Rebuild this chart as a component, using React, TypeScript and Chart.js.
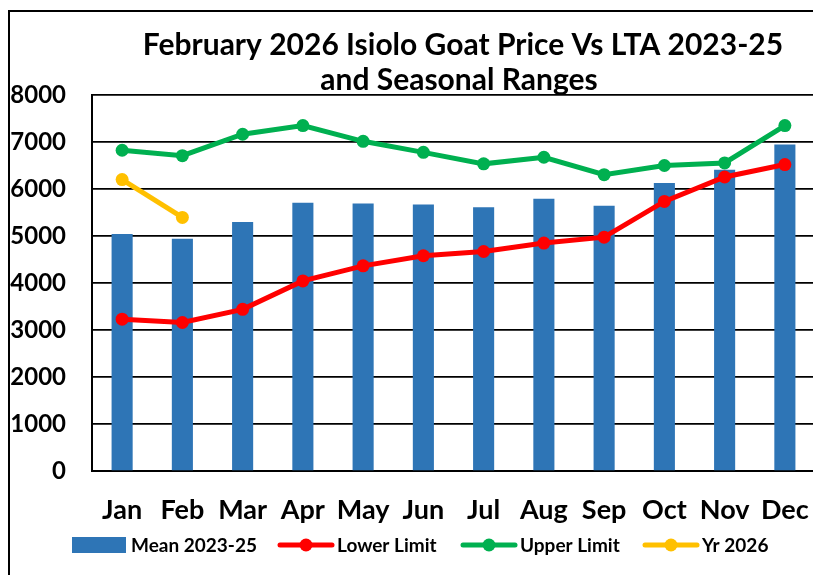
import React, { useEffect, useRef } from "react";
import { Chart, registerables } from "chart.js";

Chart.register(...registerables);

const months = ["Jan", "Feb", "Mar", "Apr", "May", "Jun", "Jul", "Aug", "Sep", "Oct", "Nov", "Dec"];
const meanLTA = [5040, 4940, 5300, 5710, 5690, 5670, 5610, 5790, 5645, 6130, 6410, 6945];
const lowerLimit = [3230, 3160, 3440, 4045, 4365, 4580, 4670, 4850, 4975, 5735, 6255, 6520];
const upperLimit = [6825, 6710, 7165, 7350, 7015, 6780, 6535, 6675, 6305, 6500, 6555, 7350];
const yr2026 = [6200, 5395];
const titleLines = ["February 2026 Isiolo Goat Price Vs LTA 2023-25", "and Seasonal Ranges"];
const seriesNames = ["Mean 2023-25", "Lower Limit", "Upper Limit", "Yr 2026"];

const BLUE = "#2E75B6";
const RED = "#FF0000";
const GREEN = "#00B050";
const YELLOW = "#FFC000";
const FONT = "Lato, 'Open Sans', sans-serif";

const framePlugin = {
  id: "frame",
  beforeDraw(chart: any) {
    const ctx = chart.ctx;
    ctx.save();
    ctx.fillStyle = "#ffffff";
    ctx.fillRect(0, 0, chart.width, chart.height);
    ctx.strokeStyle = "#000";
    ctx.lineWidth = 2;
    ctx.beginPath();
    ctx.moveTo(9, chart.height + 5);
    ctx.lineTo(9, 11);
    ctx.lineTo(chart.width + 5, 11);
    ctx.stroke();
    ctx.restore();
  },
  afterDraw(chart: any) {
    const ctx = chart.ctx;
    ctx.save();
    // title
    ctx.fillStyle = "#000";
    ctx.font = `bold 30px ${FONT}`;
    ctx.textAlign = "center";
    ctx.textBaseline = "middle";
    ctx.fillText(titleLines[0], 463, 45);
    ctx.fillText(titleLines[1], 459, 80);

    // legend
    ctx.font = `bold 19px ${FONT}`;
    ctx.textAlign = "left";
    const ly = 545;
    const ds = chart.data.datasets;
    const items = [
      { x: 72, tx: 131 },
      { x: 278, tx: 337 },
      { x: 461, tx: 520 },
      { x: 643, tx: 702 },
    ];
    items.forEach((it, i) => {
      const d = ds[i];
      if (i === 0) {
        ctx.fillStyle = d.backgroundColor;
        ctx.fillRect(it.x, ly - 8, 54, 16);
      } else {
        ctx.strokeStyle = d.borderColor;
        ctx.lineWidth = 5;
        ctx.lineCap = "round";
        ctx.beginPath();
        ctx.moveTo(it.x + 2, ly);
        ctx.lineTo(it.x + 54, ly);
        ctx.stroke();
        ctx.fillStyle = d.borderColor;
        ctx.beginPath();
        ctx.arc(it.x + 28, ly, 6.5, 0, Math.PI * 2);
        ctx.fill();
      }
      ctx.fillStyle = "#000";
      ctx.fillText(d.label, it.tx, ly + 1);
    });
    ctx.restore();
  },
};

export default function App() {
  const ref = useRef<HTMLCanvasElement | null>(null);
  useEffect(() => {
    if (!ref.current) return;
    const lineDs = (label: string, data: number[], color: string, order: number) => ({
      type: "line" as const,
      label,
      data,
      borderColor: color,
      backgroundColor: color,
      borderWidth: 5,
      pointRadius: 6.5,
      pointHoverRadius: 6.5,
      pointBackgroundColor: color,
      pointBorderColor: color,
      pointBorderWidth: 0,
      tension: 0,
      fill: false,
      order,
    });
    const chart = new Chart(ref.current, {
      type: "bar",
      data: {
        labels: months,
        datasets: [
          {
            type: "bar",
            label: seriesNames[0],
            data: meanLTA,
            backgroundColor: BLUE,
            borderWidth: 0,
            barPercentage: 0.35,
            categoryPercentage: 1,
            order: 5,
          } as any,
          lineDs(seriesNames[1], lowerLimit, RED, 3),
          lineDs(seriesNames[2], upperLimit, GREEN, 2),
          lineDs(seriesNames[3], yr2026, YELLOW, 1),
        ],
      },
      options: {
        responsive: false,
        animation: false,
        devicePixelRatio: 1,
        layout: { padding: { left: 0, right: 10, top: 95, bottom: 0 } },
        plugins: {
          legend: { display: false },
          title: { display: false },
          tooltip: { enabled: false },
        },
        scales: {
          x: {
            grid: { display: false },
            border: { display: true, color: "#000", width: 2 },
            ticks: {
              color: "#000",
              font: { family: FONT, size: 27, weight: "bold" },
              padding: 15,
              maxRotation: 0,
              autoSkip: false,
            },
            afterFit(scale: any) {
              scale.height = 104;
            },
          },
          y: {
            min: 0,
            max: 8000,
            grid: { color: "#000", lineWidth: 1.7, drawTicks: false },
            border: { display: true, color: "#000", width: 2 },
            ticks: {
              stepSize: 1000,
              color: "#000",
              font: { family: FONT, size: 24, weight: "bold" },
              padding: 26,
              callback: (v: any) => String(v),
            },
            afterFit(scale: any) {
              scale.width = 92;
            },
          },
        },
      },
      plugins: [framePlugin],
    });
    return () => chart.destroy();
  }, []);
  return (
    <div style={{ position: "absolute", left: 0, top: 0, width: 813, height: 575, overflow: "hidden", background: "#fff" }}>
      <canvas ref={ref} width={825} height={575} style={{ width: 825, height: 575, display: "block" }} />
    </div>
  );
}
